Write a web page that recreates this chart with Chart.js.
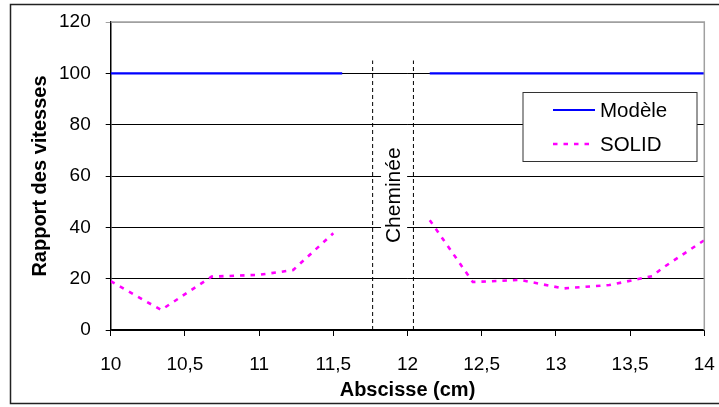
<!DOCTYPE html>
<html lang="fr">
<head>
    <meta charset="UTF-8">
    <title>Rapport des vitesses</title>
    <style>
        body { margin: 0; background: #fff; }
        canvas { display: block; }
    </style>
</head>
<body>
<canvas id="myChart" width="719" height="407"></canvas>
<script src="https://cdn.jsdelivr.net/npm/chart.js"></script>
<script>
// valeurs
const modeleX = [10, 11.56, 11.85, 12.15, 14];
const modeleY = [100, 100, null, 100, 100];

const solidX = [10, 10.34, 10.68, 11.0, 11.14, 11.23, 11.5, 11.85, 12.15, 12.44, 12.76, 13.05, 13.36, 13.65, 13.72, 14];
const solidY = [19, 7.8, 20.8, 21.5, 22.6, 23.4, 37.7, null, 42.8, 18.7, 19.5, 16.2, 17.5, 21, 24.2, 35];

const chemineeX = [11.765, 12.04];
const chemineeTop = 105;
const chemineeLabel = 'Cheminée';

const yTicks = [0, 20, 40, 60, 80, 100, 120];
const legendLabels = ['Modèle', 'SOLID'];

const FONT = "'Liberation Sans', Arial, sans-serif";

function pts(xs, ys) {
    return xs.map((x, i) => ({ x: x, y: ys[i] }));
}

function noPad(s) {
    s.paddingLeft = 0;
    s.paddingRight = 0;
    s.paddingTop = 0;
    s.paddingBottom = 0;
}

const extras = {
    id: 'extras',
    beforeDatasetsDraw(chart) {
        const c = chart.ctx, xs = chart.scales.x, ys = chart.scales.y;
        const cx = (xs.getPixelForValue(chemineeX[0]) + xs.getPixelForValue(chemineeX[1])) / 2 + 1;
        const cy = ys.getPixelForValue(52.5);
        c.save();
        c.fillStyle = '#fff';
        c.fillRect(cx - 13, cy - 55, 26, 110);
        c.translate(cx, cy);
        c.rotate(-Math.PI / 2);
        c.fillStyle = '#000';
        c.font = '21px ' + FONT;
        c.textAlign = 'center';
        c.textBaseline = 'middle';
        c.fillText(chemineeLabel, 0, 0);
        c.restore();
    },
    afterDatasetsDraw(chart) {
        const c = chart.ctx, a = chart.chartArea;
        c.save();
        // bord du graphique
        c.strokeStyle = '#a0a0a0';
        c.lineWidth = 1.5;
        c.beginPath();
        c.moveTo(a.left, a.top);
        c.lineTo(a.right, a.top);
        c.lineTo(a.right, a.bottom);
        c.stroke();

        // legende
        const lx = 523, ly = 92.5, lw = 174, lh = 69;
        c.fillStyle = '#fff';
        c.fillRect(lx, ly, lw, lh);
        c.strokeStyle = '#333';
        c.lineWidth = 1;
        c.strokeRect(lx, ly, lw, lh);
        const rows = [110, 144];
        chart.data.datasets.slice(0, 2).forEach((ds, i) => {
            c.strokeStyle = ds.borderColor;
            c.lineWidth = ds.borderWidth;
            c.setLineDash(ds.borderDash || []);
            c.beginPath();
            c.moveTo(553, rows[i]);
            c.lineTo(595, rows[i]);
            c.stroke();
            c.setLineDash([]);
            c.fillStyle = '#000';
            c.font = '20.5px ' + FONT;
            c.textBaseline = 'middle';
            c.fillText(legendLabels[i], 600, rows[i] + 1);
        });

        // cadre exterieur
        c.strokeStyle = '#222';
        c.lineWidth = 1.5;
        c.beginPath();
        c.moveTo(760, 4.5);
        c.lineTo(10.5, 4.5);
        c.lineTo(10.5, 403.5);
        c.lineTo(760, 403.5);
        c.stroke();
        c.restore();
    }
};

const ctx = document.getElementById('myChart').getContext('2d');
const myChart = new Chart(ctx, {
    type: 'line',
    data: {
        datasets: [{
            label: legendLabels[0],
            data: pts(modeleX, modeleY),
            borderColor: '#0000ff',
            borderWidth: 2.2,
            pointRadius: 0,
            spanGaps: false,
            tension: 0
        }, {
            label: legendLabels[1],
            data: pts(solidX, solidY),
            borderColor: '#ff00ff',
            borderWidth: 2.6,
            borderDash: [4.5, 6],
            pointRadius: 0,
            spanGaps: false,
            tension: 0
        }, {
            label: 'c1',
            data: [{ x: chemineeX[0], y: 0 }, { x: chemineeX[0], y: chemineeTop }],
            borderColor: '#000',
            borderWidth: 1,
            borderDash: [4, 3],
            pointRadius: 0
        }, {
            label: 'c2',
            data: [{ x: chemineeX[1], y: 0 }, { x: chemineeX[1], y: chemineeTop }],
            borderColor: '#000',
            borderWidth: 1,
            borderDash: [4, 3],
            pointRadius: 0
        }]
    },
    options: {
        responsive: false,
        animation: false,
        devicePixelRatio: 1,
        layout: { padding: { top: 22, right: 14.7, left: 0, bottom: 0 } },
        plugins: {
            legend: { display: false },
            tooltip: { enabled: false }
        },
        scales: {
            x: {
                type: 'linear',
                min: 10,
                max: 14,
                ticks: {
                    stepSize: 0.5,
                    color: '#000',
                    font: { family: FONT, size: 19 },
                    padding: 17,
                    maxRotation: 0,
                    callback: v => String(v).replace('.', ',')
                },
                grid: { drawOnChartArea: false, drawTicks: true, tickLength: 6, color: '#000' },
                border: { color: '#000', width: 1.5 },
                title: {
                    display: true,
                    text: 'Abscisse (cm)',
                    color: '#000',
                    font: { family: FONT, size: 20, weight: 'bold' },
                    padding: { top: 0, bottom: 5 }
                },
                afterFit: s => { s.height = 77; noPad(s); }
            },
            y: {
                min: 0,
                max: 120,
                afterBuildTicks: s => { s.ticks = yTicks.map(v => ({ value: v })); },
                ticks: {
                    color: '#000',
                    font: { family: FONT, size: 19 },
                    padding: 15
                },
                grid: {
                    color: c => (c.tick && c.tick.value === 120 ? '#a0a0a0' : '#000'),
                    lineWidth: 1,
                    tickLength: 5
                },
                border: { color: '#000', width: 1.5 },
                title: {
                    display: true,
                    text: 'Rapport des vitesses',
                    color: '#000',
                    font: { family: FONT, size: 20, weight: 'bold' },
                    padding: { top: 28, bottom: 0 }
                },
                afterFit: s => { s.width = 110.7; noPad(s); }
            }
        }
    },
    plugins: [extras]
});
</script>
</body>
</html>
